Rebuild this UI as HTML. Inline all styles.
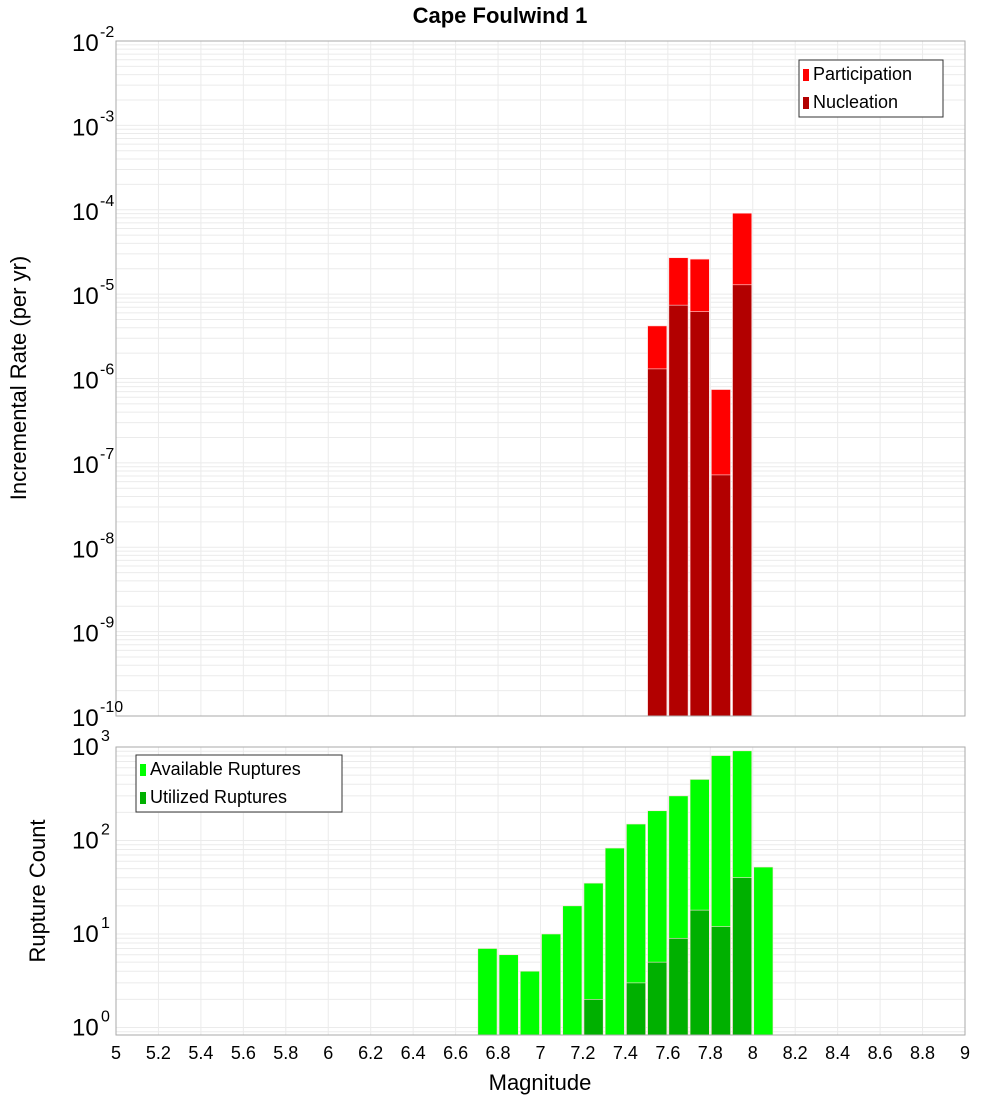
<!DOCTYPE html>
<html><head><meta charset="utf-8"><style>
html,body{margin:0;padding:0;background:#fff;}
svg{display:block;font-family:"Liberation Sans","DejaVu Sans",sans-serif;}
</style></head><body>
<svg id="chart" width="1000" height="1100" xmlns="http://www.w3.org/2000/svg">
<text x="500" y="23" text-anchor="middle" font-size="22" font-weight="bold">Cape Foulwind 1</text>
<g id="top"></g><g id="bot"></g>
</svg>
<script>
const binCenters = [7.55, 7.65, 7.75, 7.85, 7.95];
const participation = [4.2e-6, 2.7e-5, 2.6e-5, 7.4e-7, 9.1e-5];
const nucleation = [1.3e-6, 7.4e-6, 6.2e-6, 7.2e-8, 1.29e-5];
const countCenters = [6.75,6.85,6.95,7.05,7.15,7.25,7.35,7.45,7.55,7.65,7.75,7.85,7.95,8.05];
const available = [7,6,4,10,20,35,83,150,208,300,450,810,910,52];
const utilized = [0,0,0,0,0,2,0,3,5,9,18,12,40,0];
const xTicks = [5,5.2,5.4,5.6,5.8,6,6.2,6.4,6.6,6.8,7,7.2,7.4,7.6,7.8,8,8.2,8.4,8.6,8.8,9];
const topExps = [-10,-9,-8,-7,-6,-5,-4,-3,-2];
const botExps = [0,1,2,3];

const NS="http://www.w3.org/2000/svg";
const svg=document.getElementById('chart');
function mk(tag,attrs,parent){const e=document.createElementNS(NS,tag);for(const k in attrs)e.setAttribute(k,attrs[k]);(parent||svg).appendChild(e);return e;}
const X0=116,X1=965;
const xs=v=>X0+(v-5)/(9-5)*(X1-X0);
const BW=0.1;
// top axis
const T0=41,T1=716;
const ty=v=>T0+(-2-Math.log10(v))/8*(T1-T0);
// bottom axis
const B0=747,B1=1035,BDEC=93.5;
const by=v=>B0+(3-Math.log10(v))*BDEC;

function grid(g,yTop,yBot,yf,eMin,eMax){
  for(let e=eMin;e<=eMax;e++)for(let m=1;m<10;m++){const v=m*Math.pow(10,e);const y=yf(v);if(y<yTop-0.5||y>yBot+0.5)continue;
    const l=mk('line',{x1:X0,x2:X1,y1:y,y2:y,stroke:'#ebebeb','stroke-width':1},g);
    
    }
  xTicks.forEach(t=>{const x=xs(t);const l=mk('line',{x1:x,x2:x,y1:yTop,y2:yBot,stroke:'#ebebeb','stroke-width':1},g);
    
    });
}
const gt=document.getElementById('top');
grid(gt,T0,T1,ty,-10,-3);
const gb=document.getElementById('bot');
grid(gb,B0,B1,by,-1,2);

function bar(g,c,v,yf,yBot,col,name){
  if(!v)return;
  const x=xs(c-BW/2)+1, w=xs(c+BW/2)-xs(c-BW/2)-2, y=yf(v);
  const r=mk('rect',{x:x,y:y,width:w,height:yBot-y,fill:col,stroke:'#ffdede','stroke-width':0.6},g);
  
  
}
binCenters.forEach((c,i)=>bar(gt,c,participation[i],ty,T1,'#ff0000','participation-bar'));
binCenters.forEach((c,i)=>bar(gt,c,nucleation[i],ty,T1,'#b20000','nucleation-bar'));
countCenters.forEach((c,i)=>bar(gb,c,available[i],by,B1,'#00ff00','available-bar'));
countCenters.forEach((c,i)=>bar(gb,c,utilized[i],by,B1,'#00b000','utilized-bar'));

const f1=mk('rect',{x:X0,y:T0,width:X1-X0,height:T1-T0,fill:'none',stroke:'#aaa','stroke-width':1});

const f2=mk('rect',{x:X0,y:B0,width:X1-X0,height:B1-B0,fill:'none',stroke:'#aaa','stroke-width':1});


function ylab(e,y,name){
  const t=mk('text',{x:112,y:y+10,'text-anchor':'end','font-size':24});
  
  const b=document.createElementNS(NS,'tspan');b.textContent='10';t.appendChild(b);
  const s=document.createElementNS(NS,'tspan');s.setAttribute('dy','-13');s.setAttribute('font-size','16');s.textContent=String(e);t.appendChild(s);
  t.setAttribute('x',String(112-(String(e).length*9)));
  t.setAttribute('text-anchor','end');
  // reposition: put superscript after
  s.setAttribute('x','');
}
topExps.forEach(e=>{const y=ty(Math.pow(10,e));
  const t=mk('text',{x:72,y:y+10,'font-size':24});
  
  t.textContent='10';
  const s=mk('text',{x:100,y:y-4,'font-size':16});
  
  s.textContent=String(e);});
botExps.forEach(e=>{const y=by(Math.pow(10,e));
  const t=mk('text',{x:72,y:y+8,'font-size':24});
  
  t.textContent='10';
  const s=mk('text',{x:101,y:y-6,'font-size':16});
  
  s.textContent=String(e);});
xTicks.forEach(t=>{const x=xs(t);
  const l=mk('text',{x:x,y:1059,'text-anchor':'middle','font-size':18});
  
  l.textContent=String(t);});

const yt=mk('text',{x:0,y:0,'font-size':22,'text-anchor':'middle',transform:'translate(26,378) rotate(-90)'});

yt.textContent='Incremental Rate (per yr)';
const yb=mk('text',{x:0,y:0,'font-size':22,'text-anchor':'middle',transform:'translate(45,891) rotate(-90)'});

yb.textContent='Rupture Count';
const xt=mk('text',{x:540,y:1090,'font-size':22,'text-anchor':'middle'});

xt.textContent='Magnitude';

function legend(x,y,w,items,name){
  const g=mk('g',{});
  
  mk('rect',{x:x,y:y,width:w,height:57,fill:'#fff',stroke:'#333','stroke-width':1},g);
  items.forEach((it,i)=>{
    mk('rect',{x:x+4,y:y+9+i*28,width:6,height:12,fill:it[1]},g);
    const t=mk('text',{x:x+14,y:y+20+i*28,'font-size':18},g);
    
    t.textContent=it[0];
  });
}
legend(799,60,144,[['Participation','#ff0000'],['Nucleation','#b20000']],'top-legend');
legend(136,755,206,[['Available Ruptures','#00ff00'],['Utilized Ruptures','#00b000']],'bottom-legend');
</script>
</body></html>
